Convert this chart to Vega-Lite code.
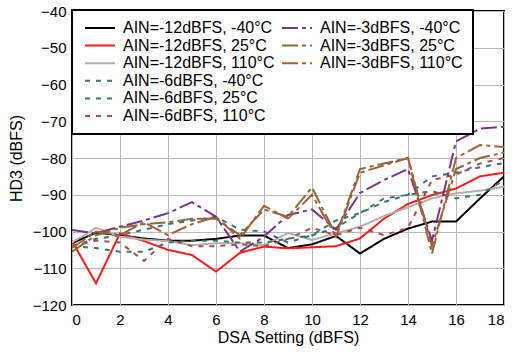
{
  "$schema": "https://vega.github.io/schema/vega-lite/v6.json",
  "width": 432,
  "height": 294,
  "autosize": {"type": "none"},
  "padding": {"left": 72, "top": 11, "right": 11, "bottom": 49},
  "background": "white",
  "config": {
    "font": "Liberation Sans",
    "view": {"stroke": "black", "strokeWidth": 2},
    "axis": {"labelFont": "Liberation Sans", "titleFont": "Liberation Sans", "labelColor": "black", "titleColor": "black", "labelFontSize": 15, "titleFontSize": 16, "titleFontWeight": "normal", "domain": false, "ticks": false, "gridColor": "#b8b8b8", "gridWidth": 1, "gridOpacity": 1},
    "legend": {"strokeWidth": 2}
  },
  "data": {
    "values": [
      {"x":0,"v":-103.2,"s":"AIN=-12dBFS, -40°C"},{"x":1,"v":-100.3,"s":"AIN=-12dBFS, -40°C"},{"x":2,"v":-101,"s":"AIN=-12dBFS, -40°C"},{"x":3,"v":-101.9,"s":"AIN=-12dBFS, -40°C"},{"x":4,"v":-102.5,"s":"AIN=-12dBFS, -40°C"},{"x":5,"v":-102.5,"s":"AIN=-12dBFS, -40°C"},{"x":6,"v":-102,"s":"AIN=-12dBFS, -40°C"},{"x":7,"v":-101.1,"s":"AIN=-12dBFS, -40°C"},{"x":8,"v":-101.1,"s":"AIN=-12dBFS, -40°C"},{"x":9,"v":-104.5,"s":"AIN=-12dBFS, -40°C"},{"x":10,"v":-103.5,"s":"AIN=-12dBFS, -40°C"},{"x":11,"v":-101.2,"s":"AIN=-12dBFS, -40°C"},{"x":12,"v":-106,"s":"AIN=-12dBFS, -40°C"},{"x":13,"v":-102,"s":"AIN=-12dBFS, -40°C"},{"x":14,"v":-99.2,"s":"AIN=-12dBFS, -40°C"},{"x":15,"v":-97.3,"s":"AIN=-12dBFS, -40°C"},{"x":16,"v":-97.3,"s":"AIN=-12dBFS, -40°C"},{"x":17,"v":-91,"s":"AIN=-12dBFS, -40°C"},{"x":18,"v":-85,"s":"AIN=-12dBFS, -40°C"},

      {"x":0,"v":-102.6,"s":"AIN=-12dBFS, 25°C"},{"x":1,"v":-114.1,"s":"AIN=-12dBFS, 25°C"},{"x":2,"v":-100.5,"s":"AIN=-12dBFS, 25°C"},{"x":3,"v":-102.6,"s":"AIN=-12dBFS, 25°C"},{"x":4,"v":-105,"s":"AIN=-12dBFS, 25°C"},{"x":5,"v":-106.4,"s":"AIN=-12dBFS, 25°C"},{"x":6,"v":-110.9,"s":"AIN=-12dBFS, 25°C"},{"x":7,"v":-105.8,"s":"AIN=-12dBFS, 25°C"},{"x":8,"v":-104.1,"s":"AIN=-12dBFS, 25°C"},{"x":9,"v":-104.6,"s":"AIN=-12dBFS, 25°C"},{"x":10,"v":-104.3,"s":"AIN=-12dBFS, 25°C"},{"x":11,"v":-104,"s":"AIN=-12dBFS, 25°C"},{"x":12,"v":-101.9,"s":"AIN=-12dBFS, 25°C"},{"x":13,"v":-96.5,"s":"AIN=-12dBFS, 25°C"},{"x":14,"v":-92.5,"s":"AIN=-12dBFS, 25°C"},{"x":15,"v":-90.1,"s":"AIN=-12dBFS, 25°C"},{"x":16,"v":-88.3,"s":"AIN=-12dBFS, 25°C"},{"x":17,"v":-85,"s":"AIN=-12dBFS, 25°C"},{"x":18,"v":-84,"s":"AIN=-12dBFS, 25°C"},

      {"x":0,"v":-103,"s":"AIN=-12dBFS, 110°C"},{"x":1,"v":-99,"s":"AIN=-12dBFS, 110°C"},{"x":2,"v":-101.4,"s":"AIN=-12dBFS, 110°C"},{"x":3,"v":-102.2,"s":"AIN=-12dBFS, 110°C"},{"x":4,"v":-102.6,"s":"AIN=-12dBFS, 110°C"},{"x":5,"v":-103.7,"s":"AIN=-12dBFS, 110°C"},{"x":6,"v":-103.2,"s":"AIN=-12dBFS, 110°C"},{"x":7,"v":-103.2,"s":"AIN=-12dBFS, 110°C"},{"x":8,"v":-103.7,"s":"AIN=-12dBFS, 110°C"},{"x":9,"v":-100.4,"s":"AIN=-12dBFS, 110°C"},{"x":10,"v":-102.3,"s":"AIN=-12dBFS, 110°C"},{"x":11,"v":-100.5,"s":"AIN=-12dBFS, 110°C"},{"x":12,"v":-98.7,"s":"AIN=-12dBFS, 110°C"},{"x":13,"v":-95.8,"s":"AIN=-12dBFS, 110°C"},{"x":14,"v":-93.4,"s":"AIN=-12dBFS, 110°C"},{"x":15,"v":-91,"s":"AIN=-12dBFS, 110°C"},{"x":16,"v":-89.6,"s":"AIN=-12dBFS, 110°C"},{"x":17,"v":-88.9,"s":"AIN=-12dBFS, 110°C"},{"x":18,"v":-87.8,"s":"AIN=-12dBFS, 110°C"},

      {"x":0,"v":-104,"s":"AIN=-6dBFS, -40°C"},{"x":1,"v":-102,"s":"AIN=-6dBFS, -40°C"},{"x":2,"v":-101,"s":"AIN=-6dBFS, -40°C"},{"x":3,"v":-99.5,"s":"AIN=-6dBFS, -40°C"},{"x":4,"v":-98,"s":"AIN=-6dBFS, -40°C"},{"x":5,"v":-97,"s":"AIN=-6dBFS, -40°C"},{"x":6,"v":-96,"s":"AIN=-6dBFS, -40°C"},{"x":7,"v":-99.5,"s":"AIN=-6dBFS, -40°C"},{"x":8,"v":-100,"s":"AIN=-6dBFS, -40°C"},{"x":9,"v":-103,"s":"AIN=-6dBFS, -40°C"},{"x":10,"v":-101,"s":"AIN=-6dBFS, -40°C"},{"x":11,"v":-97,"s":"AIN=-6dBFS, -40°C"},{"x":12,"v":-95,"s":"AIN=-6dBFS, -40°C"},{"x":13,"v":-92,"s":"AIN=-6dBFS, -40°C"},{"x":14,"v":-90,"s":"AIN=-6dBFS, -40°C"},{"x":15,"v":-85,"s":"AIN=-6dBFS, -40°C"},{"x":16,"v":-84,"s":"AIN=-6dBFS, -40°C"},{"x":17,"v":-82.5,"s":"AIN=-6dBFS, -40°C"},{"x":18,"v":-81.4,"s":"AIN=-6dBFS, -40°C"},

      {"x":0,"v":-104,"s":"AIN=-6dBFS, 25°C"},{"x":1,"v":-104.5,"s":"AIN=-6dBFS, 25°C"},{"x":2,"v":-105.5,"s":"AIN=-6dBFS, 25°C"},{"x":3,"v":-105.5,"s":"AIN=-6dBFS, 25°C"},{"x":4,"v":-103,"s":"AIN=-6dBFS, 25°C"},{"x":5,"v":-102.5,"s":"AIN=-6dBFS, 25°C"},{"x":6,"v":-102.5,"s":"AIN=-6dBFS, 25°C"},{"x":7,"v":-103,"s":"AIN=-6dBFS, 25°C"},{"x":8,"v":-103,"s":"AIN=-6dBFS, 25°C"},{"x":9,"v":-102,"s":"AIN=-6dBFS, 25°C"},{"x":10,"v":-101,"s":"AIN=-6dBFS, 25°C"},{"x":11,"v":-99,"s":"AIN=-6dBFS, 25°C"},{"x":12,"v":-95,"s":"AIN=-6dBFS, 25°C"},{"x":13,"v":-91,"s":"AIN=-6dBFS, 25°C"},{"x":14,"v":-90,"s":"AIN=-6dBFS, 25°C"},{"x":15,"v":-89,"s":"AIN=-6dBFS, 25°C"},{"x":16,"v":-91,"s":"AIN=-6dBFS, 25°C"},{"x":17,"v":-90,"s":"AIN=-6dBFS, 25°C"},{"x":18,"v":-86,"s":"AIN=-6dBFS, 25°C"},

      {"x":0,"v":-104,"s":"AIN=-6dBFS, 110°C"},{"x":1,"v":-102.5,"s":"AIN=-6dBFS, 110°C"},{"x":2,"v":-103,"s":"AIN=-6dBFS, 110°C"},{"x":3,"v":-108,"s":"AIN=-6dBFS, 110°C"},{"x":4,"v":-102,"s":"AIN=-6dBFS, 110°C"},{"x":5,"v":-104,"s":"AIN=-6dBFS, 110°C"},{"x":6,"v":-104,"s":"AIN=-6dBFS, 110°C"},{"x":7,"v":-103.5,"s":"AIN=-6dBFS, 110°C"},{"x":8,"v":-104,"s":"AIN=-6dBFS, 110°C"},{"x":9,"v":-102,"s":"AIN=-6dBFS, 110°C"},{"x":10,"v":-99,"s":"AIN=-6dBFS, 110°C"},{"x":11,"v":-101,"s":"AIN=-6dBFS, 110°C"},{"x":12,"v":-99,"s":"AIN=-6dBFS, 110°C"},{"x":13,"v":-101,"s":"AIN=-6dBFS, 110°C"},{"x":14,"v":-99,"s":"AIN=-6dBFS, 110°C"},{"x":15,"v":-86,"s":"AIN=-6dBFS, 110°C"},{"x":16,"v":-84.5,"s":"AIN=-6dBFS, 110°C"},{"x":17,"v":-81.5,"s":"AIN=-6dBFS, 110°C"},{"x":18,"v":-80,"s":"AIN=-6dBFS, 110°C"},

      {"x":0,"v":-99.6,"s":"AIN=-3dBFS, -40°C"},{"x":1,"v":-100.5,"s":"AIN=-3dBFS, -40°C"},{"x":2,"v":-98.7,"s":"AIN=-3dBFS, -40°C"},{"x":3,"v":-97,"s":"AIN=-3dBFS, -40°C"},{"x":4,"v":-95,"s":"AIN=-3dBFS, -40°C"},{"x":5,"v":-92,"s":"AIN=-3dBFS, -40°C"},{"x":6,"v":-96,"s":"AIN=-3dBFS, -40°C"},{"x":7,"v":-105.5,"s":"AIN=-3dBFS, -40°C"},{"x":8,"v":-101.4,"s":"AIN=-3dBFS, -40°C"},{"x":9,"v":-95.5,"s":"AIN=-3dBFS, -40°C"},{"x":10,"v":-94,"s":"AIN=-3dBFS, -40°C"},{"x":11,"v":-99.5,"s":"AIN=-3dBFS, -40°C"},{"x":12,"v":-89.5,"s":"AIN=-3dBFS, -40°C"},{"x":13,"v":-86,"s":"AIN=-3dBFS, -40°C"},{"x":14,"v":-83,"s":"AIN=-3dBFS, -40°C"},{"x":15,"v":-102.5,"s":"AIN=-3dBFS, -40°C"},{"x":16,"v":-75.5,"s":"AIN=-3dBFS, -40°C"},{"x":17,"v":-72,"s":"AIN=-3dBFS, -40°C"},{"x":18,"v":-71.5,"s":"AIN=-3dBFS, -40°C"},

      {"x":0,"v":-105.5,"s":"AIN=-3dBFS, 25°C"},{"x":1,"v":-101,"s":"AIN=-3dBFS, 25°C"},{"x":2,"v":-99,"s":"AIN=-3dBFS, 25°C"},{"x":3,"v":-98,"s":"AIN=-3dBFS, 25°C"},{"x":4,"v":-97.5,"s":"AIN=-3dBFS, 25°C"},{"x":5,"v":-96.5,"s":"AIN=-3dBFS, 25°C"},{"x":6,"v":-96.5,"s":"AIN=-3dBFS, 25°C"},{"x":7,"v":-101,"s":"AIN=-3dBFS, 25°C"},{"x":8,"v":-94,"s":"AIN=-3dBFS, 25°C"},{"x":9,"v":-96,"s":"AIN=-3dBFS, 25°C"},{"x":10,"v":-88,"s":"AIN=-3dBFS, 25°C"},{"x":11,"v":-101,"s":"AIN=-3dBFS, 25°C"},{"x":12,"v":-83,"s":"AIN=-3dBFS, 25°C"},{"x":13,"v":-81.5,"s":"AIN=-3dBFS, 25°C"},{"x":14,"v":-80,"s":"AIN=-3dBFS, 25°C"},{"x":15,"v":-104,"s":"AIN=-3dBFS, 25°C"},{"x":16,"v":-83,"s":"AIN=-3dBFS, 25°C"},{"x":17,"v":-80,"s":"AIN=-3dBFS, 25°C"},{"x":18,"v":-78.5,"s":"AIN=-3dBFS, 25°C"},

      {"x":0,"v":-104.5,"s":"AIN=-3dBFS, 110°C"},{"x":1,"v":-100,"s":"AIN=-3dBFS, 110°C"},{"x":2,"v":-101,"s":"AIN=-3dBFS, 110°C"},{"x":3,"v":-97.5,"s":"AIN=-3dBFS, 110°C"},{"x":4,"v":-101,"s":"AIN=-3dBFS, 110°C"},{"x":5,"v":-98,"s":"AIN=-3dBFS, 110°C"},{"x":6,"v":-96,"s":"AIN=-3dBFS, 110°C"},{"x":7,"v":-102,"s":"AIN=-3dBFS, 110°C"},{"x":8,"v":-93,"s":"AIN=-3dBFS, 110°C"},{"x":9,"v":-96.5,"s":"AIN=-3dBFS, 110°C"},{"x":10,"v":-90,"s":"AIN=-3dBFS, 110°C"},{"x":11,"v":-101.5,"s":"AIN=-3dBFS, 110°C"},{"x":12,"v":-84,"s":"AIN=-3dBFS, 110°C"},{"x":13,"v":-82,"s":"AIN=-3dBFS, 110°C"},{"x":14,"v":-80,"s":"AIN=-3dBFS, 110°C"},{"x":15,"v":-106,"s":"AIN=-3dBFS, 110°C"},{"x":16,"v":-80,"s":"AIN=-3dBFS, 110°C"},{"x":17,"v":-76.5,"s":"AIN=-3dBFS, 110°C"},{"x":18,"v":-77,"s":"AIN=-3dBFS, 110°C"}
    ]
  },
  "mark": {"type": "line", "strokeWidth": 2, "clip": true},
  "encoding": {
    "x": {"field": "x", "type": "quantitative", "scale": {"domain": [0, 18], "nice": false, "zero": false},
          "axis": {"values": [0,2,4,6,8,10,12,14,16,18], "title": "DSA Setting (dBFS)", "labelPadding": 7, "titlePadding": 2}},
    "y": {"field": "v", "type": "quantitative", "scale": {"domain": [-120, -40], "nice": false, "zero": false},
          "axis": {"values": [-120,-110,-100,-90,-80,-70,-60,-50,-40], "title": "HD3 (dBFS)", "labelPadding": 6, "titlePadding": 8}},
    "color": {"field": "s", "type": "nominal",
      "scale": {
        "domain": ["AIN=-12dBFS, -40°C","AIN=-3dBFS, -40°C","AIN=-12dBFS, 25°C","AIN=-3dBFS, 25°C","AIN=-12dBFS, 110°C","AIN=-3dBFS, 110°C","AIN=-6dBFS, -40°C"," ","AIN=-6dBFS, 25°C","  ","AIN=-6dBFS, 110°C"],
        "range": ["#000000","#7a3585","#ff1a1a","#8a6a3a","#b0b0b0","#a5603a","#3c6e8e","#ffffff","#3b7b5c","#ffffff","#a84e4e"]
      },
      "legend": {"title": null, "orient": "none", "legendX": 0, "legendY": -1, "columns": 2, "direction": "horizontal",
        "symbolType": "M-3,0H3", "symbolSize": 100, "symbolOffset": 10, "symbolStrokeWidth": 2, "labelFontSize": 16, "labelFont": "Liberation Sans", "labelColor": "black",
        "labelOffset": 15, "columnPadding": 3, "rowPadding": 1.6, "padding": 10, "fillColor": "white", "strokeColor": "black", "labelLimit": 300}
    },
    "strokeDash": {"field": "s", "type": "nominal",
      "scale": {
        "domain": ["AIN=-12dBFS, -40°C","AIN=-3dBFS, -40°C","AIN=-12dBFS, 25°C","AIN=-3dBFS, 25°C","AIN=-12dBFS, 110°C","AIN=-3dBFS, 110°C","AIN=-6dBFS, -40°C"," ","AIN=-6dBFS, 25°C","  ","AIN=-6dBFS, 110°C"],
        "range": [[1,0],[16,4,4,4],[1,0],[16,4,4,4],[1,0],[16,4,4,4],[5,6],[1,0],[5,6],[1,0],[5,6]]
      },
      "legend": {"title": null, "orient": "none", "legendX": 0, "legendY": -1, "columns": 2, "direction": "horizontal",
        "symbolType": "M-3,0H3", "symbolSize": 100, "symbolOffset": 10, "symbolStrokeWidth": 2, "labelFontSize": 16, "labelFont": "Liberation Sans", "labelColor": "black",
        "labelOffset": 15, "columnPadding": 3, "rowPadding": 1.6, "padding": 10, "fillColor": "white", "strokeColor": "black", "labelLimit": 300}
    }
  }
}
